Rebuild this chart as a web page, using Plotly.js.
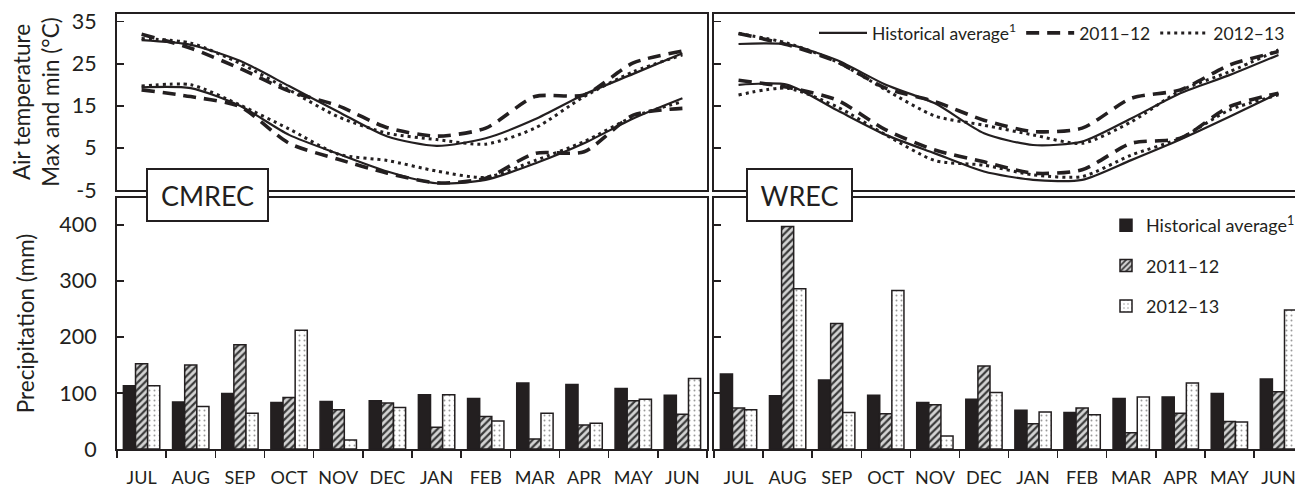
<!DOCTYPE html>
<html>
<head>
<meta charset="utf-8">
<script src="https://cdn.plot.ly/plotly-3.0.1.min.js"></script>
<style>
html,body{margin:0;padding:0;overflow:hidden;background:#fff;}
#chart{width:1310px;height:487px;}
</style>
</head>
<body>
<div id="chart"></div>
<script>
// ---- Data ----
const months = ['JUL','AUG','SEP','OCT','NOV','DEC','JAN','FEB','MAR','APR','MAY','JUN'];
const seriesNames = ['Historical average<sup>1</sup>', '2011–12', '2012–13'];
const siteNames = ['CMREC', 'WREC'];

// Air temperature (°C) – CMREC
const cmrecMaxHist = [30.6, 29.5, 25.7, 19.7, 13.6, 7.7, 5.5, 7.3, 11.8, 17.7, 22.6, 27.5];
const cmrecMax1112 = [32.0, 28.7, 23.9, 18.5, 15.0, 9.8, 7.8, 9.7, 17.2, 17.6, 25.2, 28.0];
const cmrecMax1213 = [31.0, 29.9, 25.1, 18.8, 12.4, 8.5, 7.0, 5.9, 9.7, 17.2, 23.1, 27.1];
const cmrecMinHist = [19.4, 19.2, 15.0, 8.1, 3.6, -0.6, -3.4, -2.6, 1.3, 6.1, 12.0, 16.8];
const cmrecMin1112 = [18.8, 17.2, 14.8, 6.1, 2.3, -1.0, -3.3, -2.2, 3.7, 4.1, 12.8, 14.4];
const cmrecMin1213 = [19.7, 20.0, 15.2, 9.5, 3.5, 2.0, -0.5, -2.0, 2.0, 6.5, 12.4, 16.0];

// Air temperature (°C) – WREC
const wrecMaxHist = [29.7, 29.6, 25.9, 20.0, 15.6, 8.5, 5.7, 6.5, 12.0, 18.0, 22.3, 27.1];
const wrecMax1112 = [32.2, 29.5, 25.5, 19.2, 16.0, 11.6, 8.9, 9.7, 16.8, 18.8, 24.7, 27.9];
const wrecMax1213 = [32.2, 29.9, 25.5, 18.8, 12.6, 10.4, 8.1, 6.1, 11.2, 18.6, 23.1, 28.3];
const wrecMinHist = [20.0, 20.0, 14.0, 8.1, 3.7, -0.6, -2.6, -2.6, 2.1, 7.0, 12.4, 18.0];
const wrecMin1112 = [21.1, 19.4, 16.4, 9.3, 4.5, 1.7, -1.0, -0.2, 6.1, 7.3, 14.8, 18.0];
const wrecMin1213 = [17.6, 19.2, 14.8, 8.1, 2.0, 0.9, -1.4, -1.8, 3.3, 7.3, 14.0, 17.6];

// Precipitation (mm)
const cmrecPrecHist = [113, 84, 99, 83, 85, 86, 97, 90, 118, 115, 108, 96];
const cmrecPrec1112 = [152, 150, 186, 92, 70, 82, 39, 58, 18, 43, 86, 62];
const cmrecPrec1213 = [113, 76, 64, 212, 16, 74, 97, 50, 64, 46, 89, 126];
const wrecPrecHist = [134, 95, 123, 96, 83, 89, 69, 65, 90, 93, 99, 125];
const wrecPrec1112 = [73, 397, 224, 63, 79, 148, 45, 73, 29, 64, 49, 102];
const wrecPrec1213 = [70, 286, 65, 283, 23, 101, 66, 61, 93, 118, 48, 248];

// Tick labels
const tempTickVals = [-5, 5, 15, 25, 35];
const tempTickText = ['-5', '5', '15', '25', '35'];
const precTickVals = [0, 100, 200, 300, 400];

// ---- Styles ----
const INK = '#231f20';
const FONT = 'Lato, "Open Sans", sans-serif';
const lineStyles = [
  {color: INK, width: 2.2, dash: 'solid'},
  {color: INK, width: 3.6, dash: '13px,8px'},
  {color: INK, width: 3, dash: '3px,4px'}
];
const barStyles = [
  {color: INK, line: {color: INK, width: 1.5}},
  {color: '#cfcfcf', line: {color: INK, width: 1.5},
   pattern: {shape: '/', fgcolor: '#3a3a3a', bgcolor: '#d4d4d4', size: 5, solidity: 0.45}},
  {color: '#ffffff', line: {color: INK, width: 1.5},
   pattern: {shape: '.', fgcolor: '#9a9a9a', bgcolor: '#ffffff', size: 5, solidity: 0.12}}
];

const traces = [];
function addLines(xa, ya, maxArr, minArr, showLeg) {
  for (let i = 0; i < 3; i++) {
    [maxArr[i], minArr[i]].forEach((vals, k) => {
      traces.push({
        type: 'scatter', mode: 'lines', x: months, y: vals,
        xaxis: xa, yaxis: ya,
        name: seriesNames[i],
        legend: 'legend',
        legendgroup: 'l' + i,
        showlegend: showLeg && k === 0,
        line: Object.assign({shape: 'spline', smoothing: 0.7}, lineStyles[i]),
        hoverinfo: 'skip'
      });
    });
  }
}
addLines('x', 'y', [cmrecMaxHist, cmrecMax1112, cmrecMax1213], [cmrecMinHist, cmrecMin1112, cmrecMin1213], false);
addLines('x2', 'y2', [wrecMaxHist, wrecMax1112, wrecMax1213], [wrecMinHist, wrecMin1112, wrecMin1213], true);

function addBars(xa, ya, arrs, showLeg) {
  for (let i = 0; i < 3; i++) {
    traces.push({
      type: 'bar', x: months, y: arrs[i], xaxis: xa, yaxis: ya,
      name: seriesNames[i], legend: 'legend2', legendgroup: 'b' + i,
      showlegend: showLeg, marker: barStyles[i], hoverinfo: 'skip'
    });
  }
}
addBars('x3', 'y3', [cmrecPrecHist, cmrecPrec1112, cmrecPrec1213], false);
addBars('x4', 'y4', [wrecPrecHist, wrecPrec1112, wrecPrec1213], true);

// ---- Layout geometry ----
const W = 1310, H = 487;
const M = {l: 117, r: 7, t: 14, b: 38};
const PW = W - M.l - M.r, PH = H - M.t - M.b;
const px = v => (v - M.l) / PW;
const py = v => (H - M.b - v) / PH;

const frame = {showline: true, mirror: true, linecolor: INK, linewidth: 2, zeroline: false, showgrid: false};
const xTop = Object.assign({}, frame, {type: 'category', range: [-0.5, 11.5], showticklabels: false, ticks: ''});
const xBot = Object.assign({}, frame, {
  type: 'category', range: [-0.5, 11.5], tickson: 'boundaries', ticks: 'outside', ticklen: 7,
  tickwidth: 1.5, tickcolor: INK, ticklabelstandoff: 11, tickangle: 0,
  tickfont: {family: FONT, size: 18, color: INK}
});
const yTemp = Object.assign({}, frame, {
  range: [-5, 36.83], tickvals: tempTickVals, ticktext: tempTickText,
  ticks: 'inside', ticklen: 7, tickwidth: 1.5, tickcolor: INK,
  tickfont: {family: FONT, size: 21.5, color: INK}
});
const yPrec = Object.assign({}, frame, {
  range: [0, 448], tickvals: precTickVals,
  ticks: 'inside', ticklen: 7, tickwidth: 1.5, tickcolor: INK,
  tickfont: {family: FONT, size: 21.5, color: INK}
});

const layout = {
  width: W, height: H, margin: M,
  paper_bgcolor: '#fff', plot_bgcolor: '#fff',
  font: {family: FONT, color: INK},
  barmode: 'group', bargap: 0.26, bargroupgap: 0,
  xaxis: Object.assign({}, xTop, {domain: [0, px(707)], anchor: 'y'}),
  xaxis2: Object.assign({}, xTop, {domain: [px(714), 1], anchor: 'y2'}),
  xaxis3: Object.assign({}, xBot, {domain: [0, px(707)], anchor: 'y3'}),
  xaxis4: Object.assign({}, xBot, {domain: [px(714), 1], anchor: 'y4'}),
  yaxis: Object.assign({}, yTemp, {domain: [py(190), 1], anchor: 'x', ticklabelstandoff: 14,
    title: {text: 'Air temperature<br>Max and min (°C)', font: {family: FONT, size: 22.5, color: INK}, standoff: 6}}),
  yaxis2: Object.assign({}, yTemp, {domain: [py(190), 1], anchor: 'x2', showticklabels: false}),
  yaxis3: Object.assign({}, yPrec, {domain: [0, py(198)], anchor: 'x3', ticklabelstandoff: 14,
    title: {text: 'Precipitation (mm)', font: {family: FONT, size: 22.5, color: INK}, standoff: 18}}),
  yaxis4: Object.assign({}, yPrec, {domain: [0, py(198)], anchor: 'x4', showticklabels: false}),
  legend: {
    orientation: 'h', x: px(814), y: py(15), xanchor: 'left', yanchor: 'top',
    bgcolor: 'rgba(0,0,0,0)', font: {family: FONT, size: 17.5, color: INK},
    itemwidth: 48, traceorder: 'normal'
  },
  legend2: {
    orientation: 'v', x: px(1106), y: py(207), xanchor: 'left', yanchor: 'top',
    bgcolor: 'rgba(0,0,0,0)', font: {family: FONT, size: 18, color: INK},
    tracegroupgap: 14, traceorder: 'grouped'
  },
  annotations: [
    {text: siteNames[0], xref: 'paper', yref: 'paper', x: px(207), y: py(194.5),
     xanchor: 'center', yanchor: 'middle', showarrow: false,
     font: {family: FONT, size: 27, color: INK}, bgcolor: '#fff', bordercolor: INK,
     borderwidth: 2, borderpad: 0, width: 119, height: 50},
    {text: siteNames[1], xref: 'paper', yref: 'paper', x: px(799), y: py(194.5),
     xanchor: 'center', yanchor: 'middle', showarrow: false,
     font: {family: FONT, size: 27, color: INK}, bgcolor: '#fff', bordercolor: INK,
     borderwidth: 2, borderpad: 0, width: 103, height: 50}
  ]
};

Plotly.newPlot('chart', traces, layout, {displayModeBar: false, staticPlot: true});
</script>
</body>
</html>
